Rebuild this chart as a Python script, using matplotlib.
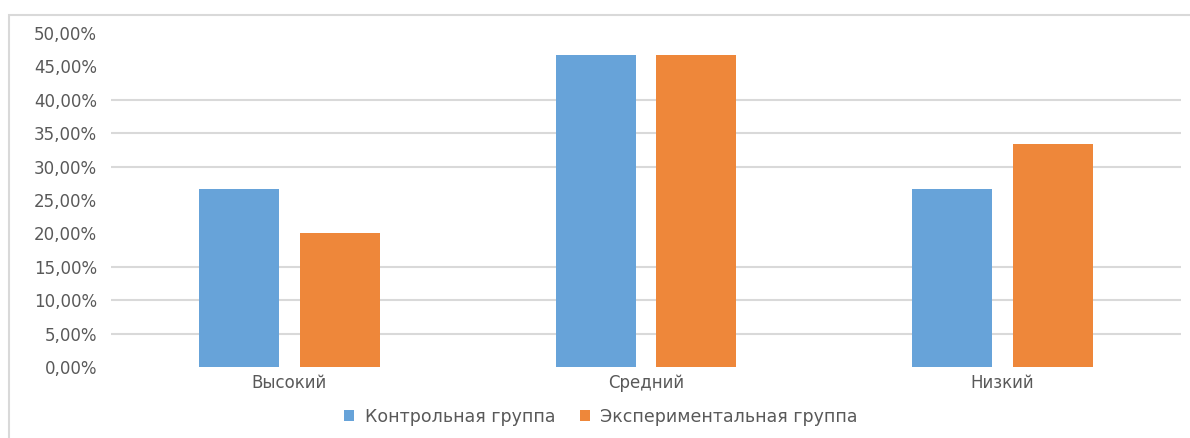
import matplotlib
matplotlib.use("Agg")
import matplotlib.pyplot as plt
from matplotlib.patches import Rectangle
from matplotlib.ticker import FuncFormatter
import numpy as np

categories = ["Высокий", "Средний", "Низкий"]
series_names = ["Контрольная группа", "Экспериментальная группа"]
control = [26.67, 46.67, 26.67]
experimental = [20.0, 46.67, 33.33]
yticks = [0, 5, 10, 15, 20, 25, 30, 35, 40, 45, 50]
visible_grid = [5, 10, 15, 30, 35, 40]

blue = "#67A3D9"
orange = "#EE873A"
text_color = "#595959"

W, H = 1190, 438
fig = plt.figure(figsize=(W / 100, H / 100), dpi=100)

# outer chart frame
fig.patches.append(Rectangle((9 / W, -0.05), 1.1, 1 - 15 / H + 0.05,
                             transform=fig.transFigure, fill=False,
                             edgecolor="#D9D9D9", linewidth=1.5))

ax = fig.add_axes([111 / W, 1 - 367 / H, (1181 - 111) / W, (367 - 33) / H])
x = np.arange(len(categories))
bw = 80 / 356.7
off = 50.5 / 356.7
ax.bar(x - off, control, bw, color=blue, label=series_names[0], zorder=3)
ax.bar(x + off, experimental, bw, color=orange, label=series_names[1], zorder=3)

ax.set_xlim(-0.5, len(categories) - 0.5)
ax.set_ylim(0, 50)
ax.set_yticks(yticks)
ax.yaxis.set_major_formatter(FuncFormatter(lambda v, p: f"{v:.2f}".replace(".", ",") + "%"))
for g in visible_grid:
    ax.axhline(g, color="#D9D9D9", linewidth=1.5, zorder=1)
ax.set_xticks(x)
ax.set_xticklabels(categories)
ax.tick_params(axis="both", length=0, colors=text_color, labelsize=12)
ax.tick_params(axis="y", pad=10)
ax.tick_params(axis="x", pad=5)
for s in ax.spines.values():
    s.set_visible(False)

fig.legend(loc="center", bbox_to_anchor=(601 / W, 1 - 417 / H), ncol=2,
           frameon=False, fontsize=12.5, labelcolor=text_color,
           handlelength=0.6, handleheight=0.6, handletextpad=0.6, columnspacing=1.4)

fig.savefig("out.png", dpi=100, facecolor="white")
